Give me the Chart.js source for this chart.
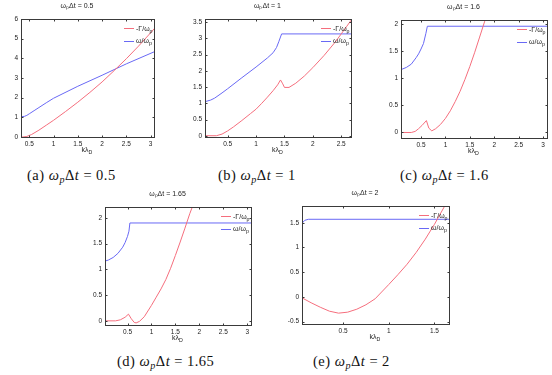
<!DOCTYPE html>
<html>
<head>
<meta charset="utf-8">
<script src="https://cdn.jsdelivr.net/npm/chart.js@4.4.1/dist/chart.umd.min.js"></script>
<style>
  body { margin: 0; background: #fff; width: 552px; height: 375px; overflow: hidden; position: relative; }
  canvas { position: absolute; }
  .cap { position: absolute; font-family: "Liberation Serif", serif; font-size: 14.5px; line-height: 14px; letter-spacing: 0.5px; color: #111; white-space: nowrap; }
  .cap sub { font-size: 70%; line-height: 0; vertical-align: -0.25em; }
  .cap .eq { margin: 0 4px; }
</style>
</head>
<body>
<canvas id="pa"></canvas>
<canvas id="pb"></canvas>
<canvas id="pc"></canvas>
<canvas id="pd"></canvas>
<canvas id="pe"></canvas>
<div class="cap" style="left:27px;top:168px">(a) <i>ω<sub>p</sub></i>Δ<i>t</i><span class="eq">=</span>0.5</div>
<div class="cap" style="left:218px;top:168px">(b) <i>ω<sub>p</sub></i>Δ<i>t</i><span class="eq">=</span>1</div>
<div class="cap" style="left:400px;top:168px">(c) <i>ω<sub>p</sub></i>Δ<i>t</i><span class="eq">=</span>1.6</div>
<div class="cap" style="left:117px;top:354px">(d) <i>ω<sub>p</sub></i>Δ<i>t</i><span class="eq">=</span>1.65</div>
<div class="cap" style="left:313px;top:354px">(e) <i>ω<sub>p</sub></i>Δ<i>t</i><span class="eq">=</span>2</div>
<script>
// (a) wp*dt = 0.5
var kGammaA = [0.33, 0.37, 0.45, 0.55, 0.7, 0.85, 1.0, 1.25, 1.5, 1.75, 2.0, 2.25, 2.5, 2.75, 3.0, 3.09];
var gammaA  = [0, 0, 0.03, 0.13, 0.35, 0.6, 0.85, 1.3, 1.77, 2.27, 2.8, 3.38, 3.98, 4.62, 5.3, 5.55];
var kOmegaA = [0.33, 0.4, 0.45, 0.5, 0.6, 0.7, 0.85, 1.0, 1.5, 2.0, 2.5, 3.09];
var omegaA  = [1.03, 1.05, 1.1, 1.18, 1.34, 1.5, 1.74, 1.97, 2.58, 3.14, 3.72, 4.35];
var xTicksA = [0.5, 1, 1.5, 2, 2.5, 3];
var yTicksA = [0, 1, 2, 3, 4, 5, 6];

// (b) wp*dt = 1
var kGammaB = [0.1, 0.3, 0.4, 0.5, 0.6, 0.75, 0.9, 1.0, 1.1, 1.2, 1.3, 1.38, 1.43, 1.47, 1.5, 1.58, 1.7, 1.85, 2.0, 2.2, 2.4, 2.5, 2.6, 2.69];
var gammaB  = [0, 0, 0.05, 0.15, 0.27, 0.47, 0.68, 0.82, 1.0, 1.19, 1.39, 1.57, 1.72, 1.6, 1.49, 1.49, 1.62, 1.84, 2.1, 2.48, 2.9, 3.14, 3.38, 3.6];
var kOmegaB = [0.1, 0.2, 0.27, 0.4, 0.5, 0.75, 1.0, 1.2, 1.3, 1.36, 1.4, 1.45, 2.69];
var omegaB  = [1.05, 1.1, 1.16, 1.32, 1.45, 1.79, 2.12, 2.4, 2.56, 2.72, 2.9, 3.14, 3.14];
var xTicksB = [0.5, 1, 1.5, 2, 2.5];
var yTicksB = [0, 0.5, 1, 1.5, 2, 2.5, 3, 3.5];

// (c) wp*dt = 1.6
var kGammaC = [0.09, 0.3, 0.38, 0.45, 0.52, 0.61, 0.66, 0.72, 0.8, 0.9, 1.0, 1.1, 1.2, 1.3, 1.4, 1.5, 1.6, 1.7, 1.8, 1.85];
var gammaC  = [0, 0, 0.02, 0.07, 0.13, 0.22, 0.08, 0.03, 0.07, 0.15, 0.26, 0.4, 0.57, 0.76, 0.98, 1.22, 1.48, 1.76, 2.04, 2.18];
var kOmegaC = [0.09, 0.2, 0.3, 0.4, 0.45, 0.5, 0.55, 0.6, 0.63, 3.1];
var omegaC  = [1.16, 1.2, 1.26, 1.38, 1.45, 1.54, 1.64, 1.83, 1.96, 1.96];
var xTicksC = [0.5, 1, 1.5, 2, 2.5, 3];
var yTicksC = [0, 0.5, 1, 1.5, 2];

// (d) wp*dt = 1.65
var kGammaD = [0.03, 0.25, 0.35, 0.45, 0.52, 0.58, 0.64, 0.68, 0.75, 0.85, 1.0, 1.1, 1.2, 1.3, 1.4, 1.5, 1.6, 1.7, 1.8, 1.87];
var gammaD  = [0, 0, 0.02, 0.07, 0.13, 0.04, -0.03, -0.04, -0.01, 0.08, 0.3, 0.46, 0.62, 0.8, 1.02, 1.27, 1.53, 1.8, 2.08, 2.25];
var kOmegaD = [0.03, 0.1, 0.2, 0.3, 0.4, 0.45, 0.5, 0.53, 0.55, 3.1];
var omegaD  = [1.16, 1.18, 1.23, 1.31, 1.43, 1.52, 1.64, 1.74, 1.9, 1.9];
var xTicksD = [0.5, 1, 1.5, 2, 2.5, 3];
var yTicksD = [0, 0.5, 1, 1.5, 2];

// (e) wp*dt = 2
var kGammaE = [0.05, 0.15, 0.25, 0.35, 0.45, 0.55, 0.65, 0.75, 0.85, 1.0, 1.1, 1.2, 1.3, 1.4, 1.5, 1.6, 1.63];
var gammaE  = [-0.02, -0.12, -0.21, -0.29, -0.33, -0.31, -0.25, -0.16, -0.04, 0.25, 0.45, 0.66, 0.9, 1.17, 1.47, 1.8, 1.9];
var kOmegaE = [0.05, 0.08, 0.12, 1.67];
var omegaE  = [1.49, 1.55, 1.571, 1.571];
var xTicksE = [0.5, 1, 1.5];
var yTicksE = [-0.5, 0, 0.5, 1, 1.5];

var titles = ['ωₚΔt = 0.5', 'ωₚΔt = 1', 'ωₚΔt = 1.6', 'ωₚΔt = 1.65', 'ωₚΔt = 2'];

var RED = 'rgb(245, 110, 125)';
var BLUE = 'rgb(105, 105, 245)';
var FONT = '"Liberation Sans", Arial, sans-serif';
var PAD = 22, TOP = 19, BOT = 24, BOX_H = 119;

function pts(xs, ys) {
    return xs.map(function(x, i) { return { x: x, y: ys[i] }; });
}

function drawSub(ctx, main, sub, x, y, size, align) {
    ctx.font = size + 'px ' + FONT;
    var w1 = ctx.measureText(main).width;
    ctx.font = (size * 0.75) + 'px ' + FONT;
    var w2 = ctx.measureText(sub).width;
    var x0 = align === 'center' ? x - (w1 + w2) / 2 : x;
    ctx.textAlign = 'left';
    ctx.textBaseline = 'alphabetic';
    ctx.font = size + 'px ' + FONT;
    ctx.fillText(main, x0, y);
    ctx.font = (size * 0.75) + 'px ' + FONT;
    ctx.fillText(sub, x0 + w1, y + size * 0.35);
}

// frame, inward ticks, x label and legend, drawn the way the original axes look
var framePlugin = {
    id: 'frame',
    afterDatasetsDraw: function(chart) {
        var ctx = chart.ctx, a = chart.chartArea;
        var L = Math.round(a.left) + 0.5, R = Math.round(a.right) - 0.5;
        var T = Math.round(a.top) + 0.5, B = Math.round(a.bottom) - 0.5;
        ctx.save();
        ctx.strokeStyle = '#3a3a3a';
        ctx.lineWidth = 1;
        ctx.strokeRect(L, T, R - L, B - T);
        ctx.beginPath();
        chart.scales.x.ticks.forEach(function(t) {
            var px = Math.round(chart.scales.x.getPixelForValue(t.value)) + 0.5;
            ctx.moveTo(px, B); ctx.lineTo(px, B - 2);
            ctx.moveTo(px, T); ctx.lineTo(px, T + 2);
        });
        chart.scales.y.ticks.forEach(function(t) {
            var py = Math.round(chart.scales.y.getPixelForValue(t.value)) + 0.5;
            ctx.moveTo(L, py); ctx.lineTo(L + 2, py);
            ctx.moveTo(R, py); ctx.lineTo(R - 2, py);
        });
        ctx.stroke();

        ctx.fillStyle = '#222';
        drawSub(ctx, 'kλ', 'D', (a.left + a.right) / 2 - 1, a.bottom + 13.5, 7, 'center');

        chart.data.datasets.forEach(function(ds, i) {
            var y = a.top + 9 + i * 12.5;
            ctx.strokeStyle = ds.borderColor;
            ctx.beginPath();
            ctx.moveTo(a.right - 31, Math.round(y) + 0.5);
            ctx.lineTo(a.right - 21, Math.round(y) + 0.5);
            ctx.stroke();
            var parts = ds.label.split('_');
            ctx.fillStyle = '#222';
            drawSub(ctx, parts[0], parts[1], a.right - 19, y + 2.5, 7, 'left');
        });
        ctx.restore();
    }
};

function makeChart(id, box, title, gk, g, ok, o, xr, yr, xt, yt) {
    var cv = document.getElementById(id);
    cv.width = PAD + box[2] + PAD;
    cv.height = TOP + BOX_H + BOT;
    cv.style.left = (box[0] - PAD) + 'px';
    cv.style.top = (box[1] - TOP) + 'px';
    var tickFont = { family: FONT, size: 6.5 };
    return new Chart(cv.getContext('2d'), {
        type: 'line',
        data: {
            datasets: [{
                label: '-Γ/ω_p',
                data: pts(gk, g),
                borderColor: RED,
                borderWidth: 1,
                pointRadius: 0,
                tension: 0,
                fill: false
            }, {
                label: 'ω/ω_p',
                data: pts(ok, o),
                borderColor: BLUE,
                borderWidth: 1,
                pointRadius: 0,
                tension: 0,
                fill: false
            }]
        },
        options: {
            responsive: false,
            animation: false,
            events: [],
            layout: { padding: { left: 0, right: PAD, top: 0, bottom: 0 } },
            scales: {
                x: {
                    type: 'linear',
                    min: xr[0],
                    max: xr[1],
                    afterBuildTicks: function(s) { s.ticks = xt.map(function(v) { return { value: v }; }); },
                    afterFit: function(s) { s.height = BOT; },
                    ticks: { font: tickFont, color: '#222', padding: 2, maxRotation: 0, autoSkip: false,
                             callback: function(v) { return String(v); } },
                    grid: { display: false, drawTicks: false },
                    border: { display: false }
                },
                y: {
                    type: 'linear',
                    min: yr[0],
                    max: yr[1],
                    afterBuildTicks: function(s) { s.ticks = yt.map(function(v) { return { value: v }; }); },
                    afterFit: function(s) { s.width = PAD; },
                    ticks: { font: tickFont, color: '#222', padding: 3, autoSkip: false,
                             callback: function(v) { return String(v); } },
                    grid: { display: false, drawTicks: false },
                    border: { display: false }
                }
            },
            plugins: {
                legend: { display: false },
                tooltip: { enabled: false },
                title: {
                    display: true,
                    text: title,
                    color: '#222',
                    font: { family: FONT, size: 7, weight: 'normal', lineHeight: 1 },
                    padding: { top: 3, bottom: 9 }
                }
            }
        },
        plugins: [framePlugin]
    });
}

makeChart('pa', [21, 19, 134], titles[0], kGammaA, gammaA, kOmegaA, omegaA, [0.33, 3.09], [-0.05, 6], xTicksA, yTicksA);
makeChart('pb', [205, 19, 147], titles[1], kGammaB, gammaB, kOmegaB, omegaB, [0.1, 2.69], [-0.07, 3.6], xTicksB, yTicksB);
makeChart('pc', [401, 20, 147], titles[2], kGammaC, gammaC, kOmegaC, omegaC, [0.09, 3.1], [-0.12, 2.075], xTicksC, yTicksC);
makeChart('pd', [105, 207, 147], titles[3], kGammaD, gammaD, kOmegaD, omegaD, [0.03, 3.1], [-0.1, 2.21], xTicksD, yTicksD);
makeChart('pe', [302, 206, 148], titles[4], kGammaE, gammaE, kOmegaE, omegaE, [0.05, 1.67], [-0.57, 1.84], xTicksE, yTicksE);
</script>
</body>
</html>
